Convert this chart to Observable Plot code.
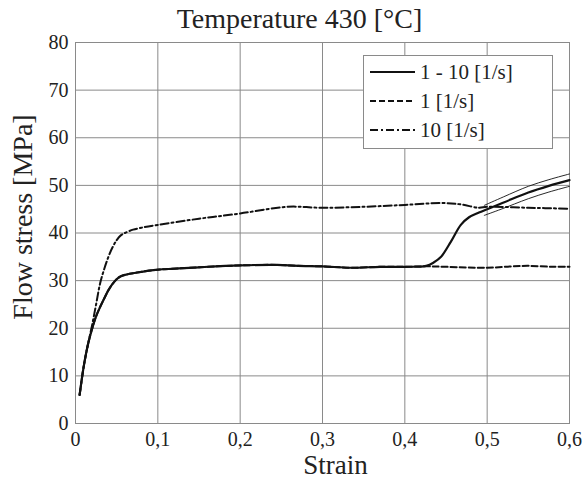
<!DOCTYPE html>
<html>
<head>
<meta charset="utf-8">
<script src="https://cdn.jsdelivr.net/npm/d3@7"></script>
<script src="https://cdn.jsdelivr.net/npm/@observablehq/plot@0.6"></script>
<style>
  html, body { margin: 0; padding: 0; background: #fff; }
</style>
</head>
<body>
<div id="chart"></div>
<script>
// ---- data ----
const titleText = "Temperature 430 [°C]";
const xLabel = "Strain";
const yLabel = "Flow stress [MPa]";

const xTicks = [0, 0.1, 0.2, 0.3, 0.4, 0.5, 0.6];
const xTickLabels = ["0", "0,1", "0,2", "0,3", "0,4", "0,5", "0,6"];
const yTicks = [0, 10, 20, 30, 40, 50, 60, 70, 80];

const seriesNames = ["1 - 10 [1/s]", "1 [1/s]", "10 [1/s]"];

// 1 - 10 [1/s] (solid)
const strainSolid = [0.005, 0.01, 0.015, 0.02, 0.025, 0.03, 0.035, 0.04, 0.045, 0.05, 0.055, 0.06, 0.075, 0.1, 0.12, 0.15, 0.2, 0.245, 0.27, 0.3, 0.335, 0.37, 0.4, 0.426, 0.435, 0.444, 0.456, 0.468, 0.478, 0.49, 0.5, 0.52, 0.55, 0.575, 0.6];
const stressSolid = [6, 12, 16.5, 19.8, 22.5, 24.5, 26.3, 28, 29.3, 30.3, 30.9, 31.2, 31.7, 32.3, 32.5, 32.8, 33.2, 33.3, 33.1, 33, 32.7, 32.9, 32.9, 33.1, 33.8, 35, 38.2, 41.7, 43.3, 44.3, 45, 46.4, 48.5, 49.9, 51.1];

// thin band lines around the solid curve
const strainUpper = [0.4965, 0.52, 0.55, 0.575, 0.6];
const stressUpper = [45.8, 47.6, 49.8, 51.2, 52.4];
const strainLower = [0.4965, 0.517, 0.55, 0.575, 0.6];
const stressLower = [43.7, 45.0, 47.2, 48.6, 49.8];

// 1 [1/s] (dashed)
const strainDashed = [0.005, 0.01, 0.015, 0.02, 0.025, 0.03, 0.035, 0.04, 0.045, 0.05, 0.055, 0.06, 0.075, 0.1, 0.12, 0.15, 0.2, 0.245, 0.27, 0.3, 0.335, 0.37, 0.4, 0.426, 0.45, 0.5, 0.53, 0.55, 0.58, 0.6];
const stressDashed = [6, 12, 16.5, 19.8, 22.5, 24.5, 26.3, 28, 29.3, 30.3, 30.9, 31.2, 31.7, 32.3, 32.5, 32.8, 33.2, 33.3, 33.1, 33, 32.7, 32.9, 32.9, 33.0, 32.9, 32.7, 33.0, 33.1, 32.9, 32.9];

// 10 [1/s] (dash-dot)
const strainDashDot = [0.005, 0.01, 0.015, 0.02, 0.025, 0.03, 0.035, 0.04, 0.045, 0.05, 0.055, 0.06, 0.07, 0.08, 0.1, 0.15, 0.2, 0.257, 0.3, 0.35, 0.4, 0.444, 0.468, 0.49, 0.5, 0.55, 0.6];
const stressDashDot = [6, 12, 16.5, 20.5, 25, 29.5, 32.5, 35, 37, 38.5, 39.5, 40, 40.7, 41.1, 41.7, 43, 44.1, 45.5, 45.3, 45.5, 45.9, 46.3, 46, 45.3, 45.5, 45.3, 45.1];

const pts = (xs, ys) => xs.map((x, i) => ({x, y: ys[i]}));

const W = 584, H = 482;
const serif = "Liberation Serif";
const gridColor = "#8a8a8a";
const textColor = "#222";
const lineColor = "#111";
const dashStyle = "6,3";
const dashDotStyle = "8,3,2,3";

const plot = Plot.plot({
  width: W,
  height: H,
  marginLeft: 75,
  marginRight: 15,
  marginTop: 42,
  marginBottom: 59,
  style: {fontFamily: serif, fontSize: "20px", color: textColor, background: "#fff"},
  x: {domain: [0, 0.6], ticks: xTicks},
  y: {domain: [0, 80], ticks: yTicks},
  marks: [
    Plot.gridX(xTicks, {stroke: gridColor, strokeOpacity: 1, strokeWidth: 1}),
    Plot.gridY(yTicks, {stroke: gridColor, strokeOpacity: 1, strokeWidth: 1}),
    Plot.frame({stroke: gridColor, strokeWidth: 1}),
    Plot.axisX(xTicks, {tickSize: 0, tickPadding: 8, label: null, fontSize: 20, fontFamily: serif, fill: textColor,
      tickFormat: (d, i) => xTickLabels[i]}),
    Plot.axisY(yTicks, {tickSize: 0, tickPadding: 7, label: null, fontSize: 20, fontFamily: serif, fill: textColor}),
    Plot.line(pts(strainDashed, stressDashed), {x: "x", y: "y", stroke: lineColor, strokeWidth: 2, strokeDasharray: dashStyle, curve: "catmull-rom"}),
    Plot.line(pts(strainDashDot, stressDashDot), {x: "x", y: "y", stroke: lineColor, strokeWidth: 2, strokeDasharray: dashDotStyle, curve: "catmull-rom"}),
    Plot.line(pts(strainUpper, stressUpper), {x: "x", y: "y", stroke: lineColor, strokeWidth: 0.9, curve: "catmull-rom"}),
    Plot.line(pts(strainLower, stressLower), {x: "x", y: "y", stroke: lineColor, strokeWidth: 0.9, curve: "catmull-rom"}),
    Plot.line(pts(strainSolid, stressSolid), {x: "x", y: "y", stroke: lineColor, strokeWidth: 2.2, curve: "catmull-rom"}),
    Plot.text([titleText], {frameAnchor: "top", textAnchor: "middle", dx: -23, dy: -23, fontSize: 28, fontFamily: serif, fill: textColor, lineAnchor: "middle"}),
    Plot.text([xLabel], {frameAnchor: "bottom", textAnchor: "middle", dx: 13, dy: 42, fontSize: 27, fontFamily: serif, fill: textColor, lineAnchor: "middle"}),
    Plot.text([yLabel], {frameAnchor: "left", textAnchor: "middle", dx: -52, dy: -16, fontSize: 28, fontFamily: serif, fill: textColor, rotate: -90, lineAnchor: "middle"})
  ]
});

document.getElementById("chart").appendChild(plot);

// ---- legend box ----
const svg = d3.select(plot);
const lg = svg.append("g").attr("font-family", serif).attr("font-size", 21).attr("fill", textColor).attr("text-anchor", "start");
lg.append("rect").attr("x", 363.5).attr("y", 55.5).attr("width", 189).attr("height", 93)
  .attr("fill", "#fff").attr("stroke", gridColor).attr("stroke-width", 1);
const dashes = [null, dashStyle, dashDotStyle];
const rowsY = [72, 101, 130];
seriesNames.forEach((name, i) => {
  const ln = lg.append("line").attr("x1", 370).attr("x2", 415).attr("y1", rowsY[i]).attr("y2", rowsY[i])
    .attr("stroke", lineColor).attr("stroke-width", 2);
  if (dashes[i]) ln.attr("stroke-dasharray", dashes[i]);
  lg.append("text").attr("x", 420).attr("y", rowsY[i]).attr("dy", "0.34em").attr("text-anchor", "start").text(name);
});
</script>
</body>
</html>
